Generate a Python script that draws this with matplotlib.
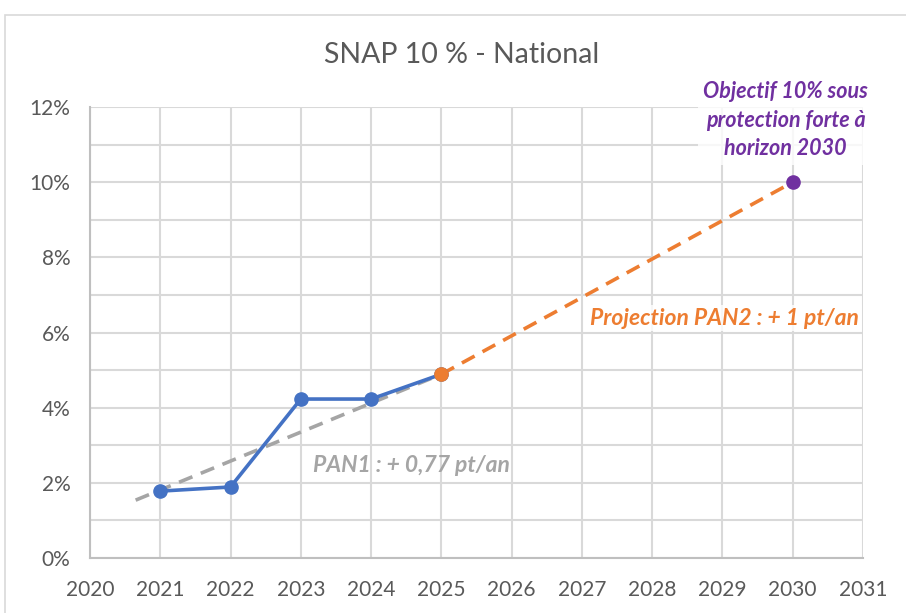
import matplotlib.pyplot as plt
from matplotlib.patches import Rectangle
from matplotlib.ticker import MultipleLocator, FuncFormatter

plt.rcParams['font.family'] = ['Lato', 'DejaVu Sans']

# observed values (%)
years = [2021, 2022, 2023, 2024, 2025]
snap = [1.78, 1.89, 4.23, 4.23, 4.89]

# PAN1 trend (+0.77 pt/an)
trend_x = [2020.65, 2025]
trend_y = [1.54, 4.89]

# PAN2 projection (+1 pt/an)
proj_x = [2025, 2030]
proj_y = [4.89, 10.0]

target_x = [2030]
target_y = [10.0]

blue = '#4472C4'
orange = '#ED7D31'
grey = '#A5A5A5'
purple = '#7030A0'
txt = '#595959'

fig = plt.figure(figsize=(9.06, 6.13), dpi=100)
ax = fig.add_axes([0.0993, 0.0897, 0.8532, 0.7357])

# chart frame
fig.patches.append(Rectangle((5 / 906, -0.01), 1.0, 1 - 15 / 613 + 0.01,
                             transform=fig.transFigure, fill=False,
                             edgecolor='#d9d9d9', linewidth=1.2))

ax.plot(trend_x, trend_y, color=grey, linestyle=(0, (4, 2.5)), linewidth=2.6, zorder=3)
ax.plot(proj_x, proj_y, color=orange, linestyle=(0, (4, 2.5)), linewidth=2.6, zorder=3)
ax.plot(years, snap, color=blue, linewidth=2.6, marker='o', markersize=9.5, zorder=4)
ax.plot([years[-1]], [snap[-1]], color=orange, marker='o', markersize=9.5, linestyle='none', zorder=5)
ax.plot(target_x, target_y, color=purple, marker='o', markersize=9.5, linestyle='none', zorder=5)

ax.set_xlim(2020, 2031)
ax.set_ylim(0, 12)
ax.xaxis.set_major_locator(MultipleLocator(1))
ax.yaxis.set_major_locator(MultipleLocator(2))
ax.yaxis.set_minor_locator(MultipleLocator(1))
ax.yaxis.set_major_formatter(FuncFormatter(lambda v, p: f'{int(v)}%'))
ax.grid(True, which='both', color='#d9d9d9', linewidth=1.5)
ax.set_axisbelow(True)
ax.tick_params(which='both', length=0, labelsize=15, labelcolor=txt)
ax.tick_params(axis='x', pad=16)
ax.tick_params(axis='y', pad=14)
for s in ['top', 'right']:
    ax.spines[s].set_visible(False)
for s in ['left', 'bottom']:
    ax.spines[s].set_color('#bfbfbf')
    ax.spines[s].set_linewidth(1.5)

fig.text(0.51, 0.91, 'SNAP 10 % - National', ha='center', va='center',
         fontsize=20.5, color=txt)

ax.text(2024.58, 2.47, 'PAN1 : + 0,77 pt/an', ha='center', va='center',
        fontsize=16.5, color=grey, fontweight='bold', fontstyle='italic')
ax.text(2029.03, 6.38, 'Projection PAN2 : + 1 pt/an', ha='center', va='center',
        fontsize=16.5, color=orange, fontweight='bold', fontstyle='italic',
        bbox=dict(facecolor='white', edgecolor='none', alpha=0.8, pad=2))
ax.text(2029.9, 11.65, 'Objectif 10% sous\nprotection forte à\nhorizon 2030',
        ha='center', va='center', fontsize=15.5, color=purple,
        fontweight='bold', fontstyle='italic', linespacing=1.45, clip_on=False,
        bbox=dict(facecolor='white', edgecolor='none', alpha=0.8, pad=4))

fig.savefig('out.png', dpi=100)
